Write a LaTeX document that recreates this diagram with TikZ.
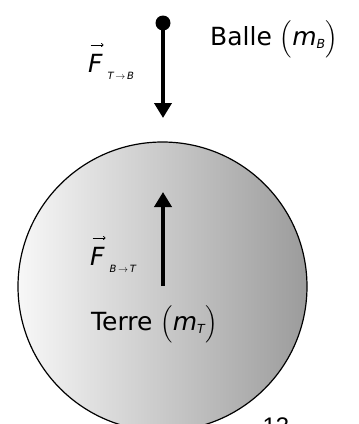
\documentclass[tikz,border=0pt]{standalone}
\usepackage{fontspec}
\usepackage{amsmath}
\setmainfont{DejaVu Sans}
\newfontfamily\pagefont{Liberation Sans}
\usetikzlibrary{arrows.meta}

\newcommand{\sym}[1]{\text{\itshape #1}}
\newcommand{\lpar}{{\fontsize{21}{21}\selectfont$\Bigl($}}
\newcommand{\rpar}{{\fontsize{21}{21}\selectfont$\Bigr)$}}
\newcommand{\vecarrow}{\tikz[baseline=0pt]\draw[line width=0.7pt, -{To[length=2.5pt, width=4pt]}] (0pt,0pt) -- (13pt,0pt);}
\newcommand{\force}[2]{\makebox[0pt][l]{\hspace{2pt}\raisebox{27pt}{\vecarrow}}{\itshape F}\hspace{5pt}\raisebox{-7pt}{\fontsize{10}{10}\selectfont\itshape #1\,$\to$\,#2}}

\begin{document}
\begin{tikzpicture}[x=1pt, y=-1pt,
    lbl/.style={anchor=base west, inner sep=0pt, font=\fontsize{25}{30}\selectfont},
    forcearrow/.style={line width=4.5pt, -{Triangle[length=15pt, width=17pt]}}]
  \useasboundingbox (0,0) rectangle (359,424);
  \clip (0,0) rectangle (359,424);

  % Earth
  \node[circle, draw, line width=1.2pt, minimum size=289pt, inner sep=0pt,
        left color=gray!6, right color=gray!78] (earth) at (162.5,286.5) {};

  % Ball and force on the ball
  \coordinate (ball) at (163,23);
  \coordinate (balltip) at (163,118);
  \fill (ball) circle (7.5);
  \draw[forcearrow] (ball) -- (balltip);

  % Force on the Earth
  \coordinate (earthtail) at (163,286);
  \coordinate (earthtip) at (163,192);
  \draw[forcearrow] (earthtail) -- (earthtip);

  % Labels
  \node[lbl] (ftb) at (88,72) {\force{T}{B}};
  \node[lbl] (balle) at (210,45) {Balle \lpar$\sym{m}_{\scriptscriptstyle\sym{B}}$\rpar};
  \node[lbl] (fbt) at (90,265) {\force{B}{T}};
  \node[lbl] (terre) at (91,330) {Terre \lpar$\sym{m}_{\scriptscriptstyle\sym{T}}$\rpar};

  % Page number
  \node[anchor=base, inner sep=0pt, font=\pagefont\fontsize{24}{28}\selectfont] (page) at (276,434) {13};
\end{tikzpicture}
\end{document}
